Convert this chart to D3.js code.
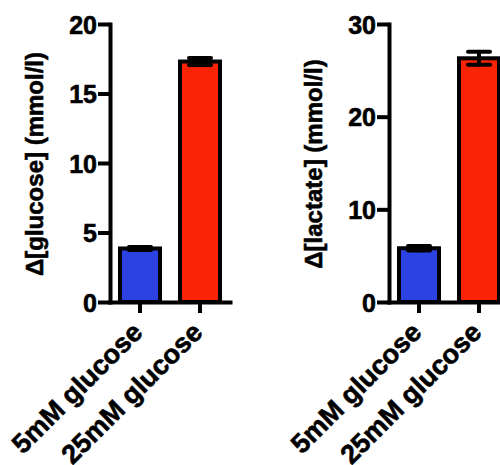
<!DOCTYPE html>
<html>
<head>
<meta charset="utf-8">
<script src="https://cdn.jsdelivr.net/npm/d3@7"></script>
<style>
  body { margin: 0; background: #fff; }
  text { font-family: "Liberation Sans", Arial, sans-serif; font-weight: bold; fill: #000; stroke: #000; stroke-width: 0.6px; }
</style>
</head>
<body>
<div id="chart"></div>
<script>
const categories = ['5mM glucose', '25mM glucose'];
const barColors = ['#2c42e2', '#fa2306'];

const glucoseMean = [3.85, 17.3];
const glucoseErr = [0.1, 0.25];
const glucoseTicks = [0, 5, 10, 15, 20];

const lactateMean = [5.8, 26.3];
const lactateErr = [0.25, 0.7];
const lactateTicks = [0, 10, 20, 30];

const width = 500;
const height = 465;

const svg = d3.select('#chart')
  .append('svg')
  .attr('width', width)
  .attr('height', height);

function drawPanel({ left, max, ticks, mean, err, label }) {
  const g = svg.append('g');

  const x = d3.scaleBand()
    .domain(categories)
    .range([left, left + 120])
    .paddingInner(1 / 3)
    .paddingOuter(1 / 6);

  const y = d3.scaleLinear()
    .domain([0, max])
    .range([302, 24]);

  const data = categories.map((c, i) => ({ cat: c, mean: mean[i], err: err[i], color: barColors[i] }));

  // bars
  g.selectAll('rect.bar')
    .data(data)
    .enter()
    .append('rect')
    .attr('class', 'bar')
    .attr('x', d => x(d.cat))
    .attr('y', d => y(d.mean))
    .attr('width', x.bandwidth())
    .attr('height', d => y(0) - y(d.mean))
    .attr('fill', d => d.color)
    .attr('stroke', '#000')
    .attr('stroke-width', 4);

  // error bars
  const eb = g.selectAll('g.err')
    .data(data)
    .enter()
    .append('g')
    .attr('class', 'err')
    .attr('stroke', '#000')
    .attr('stroke-width', 4)
    .attr('stroke-linecap', 'round');
  eb.append('line')
    .attr('x1', d => x(d.cat) + x.bandwidth() / 2)
    .attr('x2', d => x(d.cat) + x.bandwidth() / 2)
    .attr('y1', d => y(d.mean - d.err))
    .attr('y2', d => y(d.mean + d.err));
  eb.selectAll('line.cap')
    .data(d => [d.mean - d.err, d.mean + d.err].map(v => ({ v, d })))
    .enter()
    .append('line')
    .attr('class', 'cap')
    .attr('x1', o => x(o.d.cat) + x.bandwidth() / 2 - 11)
    .attr('x2', o => x(o.d.cat) + x.bandwidth() / 2 + 11)
    .attr('y1', o => y(o.v))
    .attr('y2', o => y(o.v));

  // y axis
  const yAxis = g.append('g')
    .attr('transform', `translate(${left},0)`)
    .call(d3.axisLeft(y).tickValues(ticks).tickSize(12).tickSizeOuter(0).tickPadding(1));

  // x axis
  const xAxis = g.append('g')
    .attr('transform', `translate(0,${y(0)})`)
    .call(d3.axisBottom(x).tickSize(11).tickSizeOuter(0).tickFormat(''));

  [yAxis, xAxis].forEach(a => {
    a.select('.domain').attr('stroke-width', 4).attr('stroke-linecap', 'square');
    a.selectAll('.tick line').attr('stroke-width', 4);
  });
  yAxis.selectAll('.tick text')
    .style('font-size', '25px')
    .attr('dy', '0.36em');

  // category labels
  g.selectAll('text.cat')
    .data(categories)
    .enter()
    .append('text')
    .attr('class', 'cat')
    .attr('text-anchor', 'end')
    .attr('transform', d => `translate(${x(d) + x.bandwidth() / 2 + 4},${y(0) + 32}) rotate(-45)`)
    .style('font-size', '27px')
    .text(d => d);

  // y label
  g.append('text')
    .attr('text-anchor', 'middle')
    .attr('transform', `translate(${left - 67},${(y(0) + y(max)) / 2 + 1}) rotate(-90)`)
    .style('font-size', '24px')
    .text(label);
}

drawPanel({ left: 110, max: 20, ticks: glucoseTicks, mean: glucoseMean, err: glucoseErr, label: '\u0394[glucose] (mmol/l)' });
drawPanel({ left: 389, max: 30, ticks: lactateTicks, mean: lactateMean, err: lactateErr, label: '\u0394[lactate] (mmol/l)' });
</script>
</body>
</html>
